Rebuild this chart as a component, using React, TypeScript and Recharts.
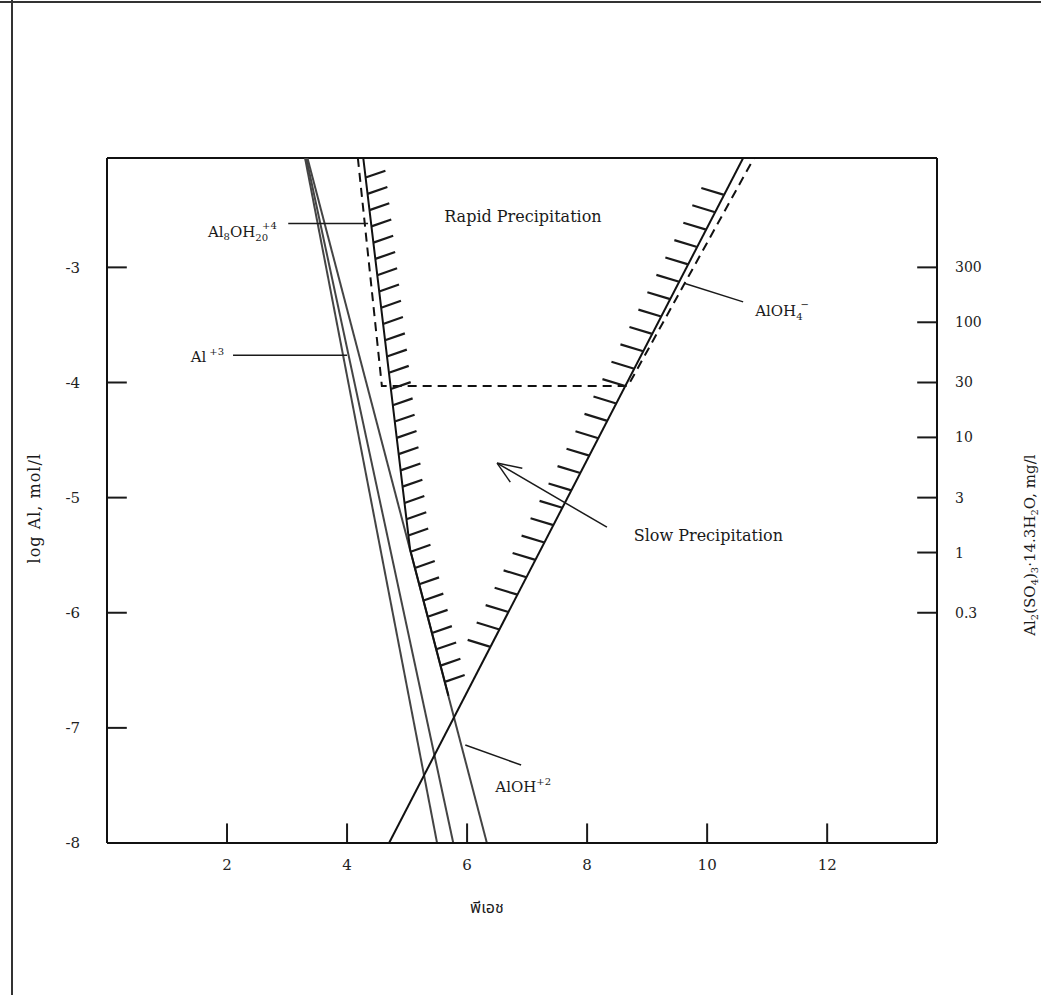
import React from 'react';
import { LineChart, Line, XAxis, YAxis, ReferenceLine, ReferenceDot } from 'recharts';

const SERIF = "'DejaVu Serif', 'Liberation Serif', serif";
const THAI = "'Noto Sans Thai', 'Noto Sans', 'DejaVu Sans', sans-serif";

const PH_TICKS = [2, 4, 6, 8, 10, 12];
const LOG_TICKS = [-3, -4, -5, -6, -7, -8];
const MG_TICKS = [-3, -3.477, -4, -4.477, -5, -5.477, -6];
const MG_LABELS = ['300', '100', '30', '10', '3', '1', '0.3'];

const PH_MAX = 13.83;
const LOG_MIN = -8;
const LOG_MAX = -2.05;

// species lines, log Al vs pH
const alIonPH = [3.3, 5.5];
const alIonLog = [-2.05, -8];
const al8PH = [3.32, 5.77];
const al8Log = [-2.05, -8];
const alOH2PH = [3.34, 6.33];
const alOH2Log = [-2.05, -8];
const alOH4PH = [4.7, 10.6];
const alOH4Log = [-8, -2.05];

// rapid precipitation boundary (left, hatched)
const rapidEdgePH = [4.27, 5.05, 5.69];
const rapidEdgeLog = [-2.05, -5.45, -6.72];

// dashed 30 mg/l outline
const dashPH = [4.18, 4.58, 8.68, 10.78];
const dashLog = [-2.05, -4.03, -4.03, -2.05];

const pts = (xs: number[], ys: number[]) => xs.map((x, i) => ({ x, y: ys[i] }));

// x on a polyline for a given y
const xAt = (xs: number[], ys: number[], y: number) => {
  for (let i = 0; i < xs.length - 1; i++) {
    const lo = Math.min(ys[i], ys[i + 1]);
    const hi = Math.max(ys[i], ys[i + 1]);
    if (y >= lo && y <= hi) {
      const t = (y - ys[i]) / (ys[i + 1] - ys[i]);
      return xs[i] + t * (xs[i + 1] - xs[i]);
    }
  }
  return xs[xs.length - 1];
};

// hatch ticks along the two precipitation edges
const leftHatches = Array.from({ length: 32 }, (_, i) => {
  const y = -2.22 - i * 0.1413;
  const x = xAt(rapidEdgePH, rapidEdgeLog, y);
  return [{ x, y }, { x: x + 0.33, y: y + 0.06 }];
});
const rightHatches = Array.from({ length: 27 }, (_, i) => {
  const y = -2.37 - i * 0.151;
  const x = xAt(alOH4PH, alOH4Log, y);
  return [{ x, y }, { x: x - 0.38, y: y + 0.06 }];
});

const lineProps = {
  dataKey: 'y',
  dot: false,
  activeDot: false,
  isAnimationActive: false,
  legendType: 'none' as const,
  type: 'linear' as const,
};

const seg = (key: string, a: [number, number], b: [number, number], w = 1.5) => (
  <ReferenceLine
    key={key}
    segment={[{ x: a[0], y: a[1] }, { x: b[0], y: b[1] }]}
    stroke="#1a1a1a"
    strokeWidth={w}
    ifOverflow="visible"
  />
);

const textAt = (key: string, x: number, y: number, node: React.ReactNode) => (
  <ReferenceDot
    key={key}
    x={x}
    y={y}
    r={0}
    ifOverflow="visible"
    shape={(p: any) => <g transform={`translate(${p.cx},${p.cy})`}>{node}</g>}
  />
);

const lbl = { fontFamily: SERIF, fontSize: 15, fill: '#1a1a1a' };

export default function App() {
  return (
    <div style={{ position: 'absolute', left: 0, top: 0, width: 1041, height: 995, background: '#fff', overflow: 'hidden' }}>
      <div style={{ position: 'absolute', left: 0, top: 1, width: 1041, height: 2, background: '#333' }} />
      <div style={{ position: 'absolute', left: 11, top: 0, width: 2, height: 995, background: '#333' }} />
      <LineChart width={1041} height={995} margin={{ top: 158, right: 24, bottom: 112, left: 27 }}>
        <XAxis
          type="number"
          dataKey="x"
          domain={[0, PH_MAX]}
          ticks={PH_TICKS}
          allowDataOverflow
          tickLine={false}
          tickSize={12}
          tickMargin={4}
          height={40}
          axisLine={{ stroke: '#111', strokeWidth: 2 }}
          tick={{ fill: '#222', fontSize: 15, fontFamily: SERIF }}
        />
        <YAxis
          type="number"
          dataKey="y"
          domain={[LOG_MIN, LOG_MAX]}
          ticks={LOG_TICKS}
          allowDataOverflow
          tickLine={false}
          tickSize={20}
          tickMargin={7}
          width={80}
          axisLine={{ stroke: '#111', strokeWidth: 2 }}
          tick={{ fill: '#222', fontSize: 15, fontFamily: SERIF }}
        />
        <YAxis
          yAxisId="mg"
          orientation="right"
          type="number"
          domain={[LOG_MIN, LOG_MAX]}
          ticks={MG_TICKS}
          allowDataOverflow
          tickLine={false}
          tickSize={14}
          tickMargin={4}
          width={80}
          axisLine={{ stroke: '#111', strokeWidth: 2 }}
          tick={{ fill: '#222', fontSize: 14, fontFamily: SERIF }}
          tickFormatter={(v: number) => MG_LABELS[MG_TICKS.indexOf(v)] ?? ''}
        />
        <ReferenceLine y={LOG_MAX} stroke="#111" strokeWidth={2} ifOverflow="visible" />

        {/* inner tick marks */}
        {LOG_TICKS.slice(0, 5).map((t) => seg(`lt${t}`, [0, t], [0.33, t], 2))}
        {MG_TICKS.map((t) => seg(`rt${t}`, [PH_MAX - 0.33, t], [PH_MAX, t], 2))}
        {PH_TICKS.map((t) => seg(`bt${t}`, [t, LOG_MIN], [t, LOG_MIN + 0.17], 2))}

        <Line {...lineProps} data={pts(alIonPH, alIonLog)} stroke="#444" strokeWidth={2} />
        <Line {...lineProps} data={pts(al8PH, al8Log)} stroke="#444" strokeWidth={2} />
        <Line {...lineProps} data={pts(alOH2PH, alOH2Log)} stroke="#444" strokeWidth={2} />
        <Line {...lineProps} data={pts(alOH4PH, alOH4Log)} stroke="#111" strokeWidth={2} />
        <Line {...lineProps} data={pts(rapidEdgePH, rapidEdgeLog)} stroke="#111" strokeWidth={2} />
        <Line {...lineProps} data={pts(dashPH, dashLog)} stroke="#111" strokeWidth={2} strokeDasharray="9 6" />

        {leftHatches.map((h, i) => seg(`lh${i}`, [h[0].x, h[0].y], [h[1].x, h[1].y], 2.2))}
        {rightHatches.map((h, i) => seg(`rh${i}`, [h[0].x, h[0].y], [h[1].x, h[1].y], 2.2))}

        {/* leaders */}
        {seg('ld-al8', [3.02, -2.618], [4.35, -2.618])}
        {seg('ld-al3', [2.1, -3.764], [4.0, -3.764])}
        {seg('ld-aloh4', [10.6, -3.3], [9.63, -3.14])}
        {seg('ld-aloh2', [5.97, -7.149], [6.9, -7.323])}
        {/* slow precipitation arrow */}
        {seg('ar', [8.33, -5.257], [6.5, -4.7])}
        {seg('ar1', [6.5, -4.7], [6.92, -4.745])}
        {seg('ar2', [6.5, -4.7], [6.72, -4.866])}

        {textAt('rapid', 6.93, -2.557,
          <text {...lbl} fontSize={16} textAnchor="middle" dominantBaseline="central">Rapid Precipitation</text>)}
        {textAt('slow', 10.02, -5.326,
          <text {...lbl} fontSize={16} textAnchor="middle" dominantBaseline="central">Slow Precipitation</text>)}
        {textAt('al8', 2.83, -2.696,
          <text {...lbl} textAnchor="end" dominantBaseline="central">
            Al<tspan fontSize={10} dy={4}>8</tspan><tspan dy={-4}>OH</tspan>
            <tspan fontSize={10} dy={5}>20</tspan><tspan fontSize={10} dx={-6} dy={-12}>+4</tspan>
          </text>)}
        {textAt('al3', 1.95, -3.78,
          <text {...lbl} textAnchor="end" dominantBaseline="central">
            Al<tspan fontSize={10} dx={3} dy={-6}>+3</tspan>
          </text>)}
        {textAt('aloh4', 10.8, -3.375,
          <text {...lbl} textAnchor="start" dominantBaseline="central">
            AlOH<tspan fontSize={10} dy={5}>4</tspan><tspan fontSize={10} dx={-2} dy={-12}>−</tspan>
          </text>)}
        {textAt('aloh2', 6.47, -7.514,
          <text {...lbl} textAnchor="start" dominantBaseline="central">
            AlOH<tspan fontSize={10} dy={-6}>+2</tspan>
          </text>)}

        {/* axis titles */}
        {textAt('xt', 6.33, -8.564,
          <text fontFamily={THAI} fontSize={16} fill="#1a1a1a" textAnchor="middle" dominantBaseline="central">พีเอช</text>)}
        {textAt('yt', -1.2, -5.092,
          <text {...lbl} fontSize={16} letterSpacing={1} transform="rotate(-90)" textAnchor="middle" dominantBaseline="central">log Al, mol/l</text>)}
        {textAt('yt2', 15.38, -5.413,
          <text {...lbl} fontSize={15} transform="rotate(-90)" textAnchor="middle" dominantBaseline="central">
            Al<tspan fontSize={10} dy={4}>2</tspan><tspan dy={-4}>(SO</tspan><tspan fontSize={10} dy={4}>4</tspan>
            <tspan dy={-4}>)</tspan><tspan fontSize={10} dy={4}>3</tspan><tspan dy={-4}>·14.3H</tspan>
            <tspan fontSize={10} dy={4}>2</tspan><tspan dy={-4}>O, mg/l</tspan>
          </text>)}
      </LineChart>
    </div>
  );
}
